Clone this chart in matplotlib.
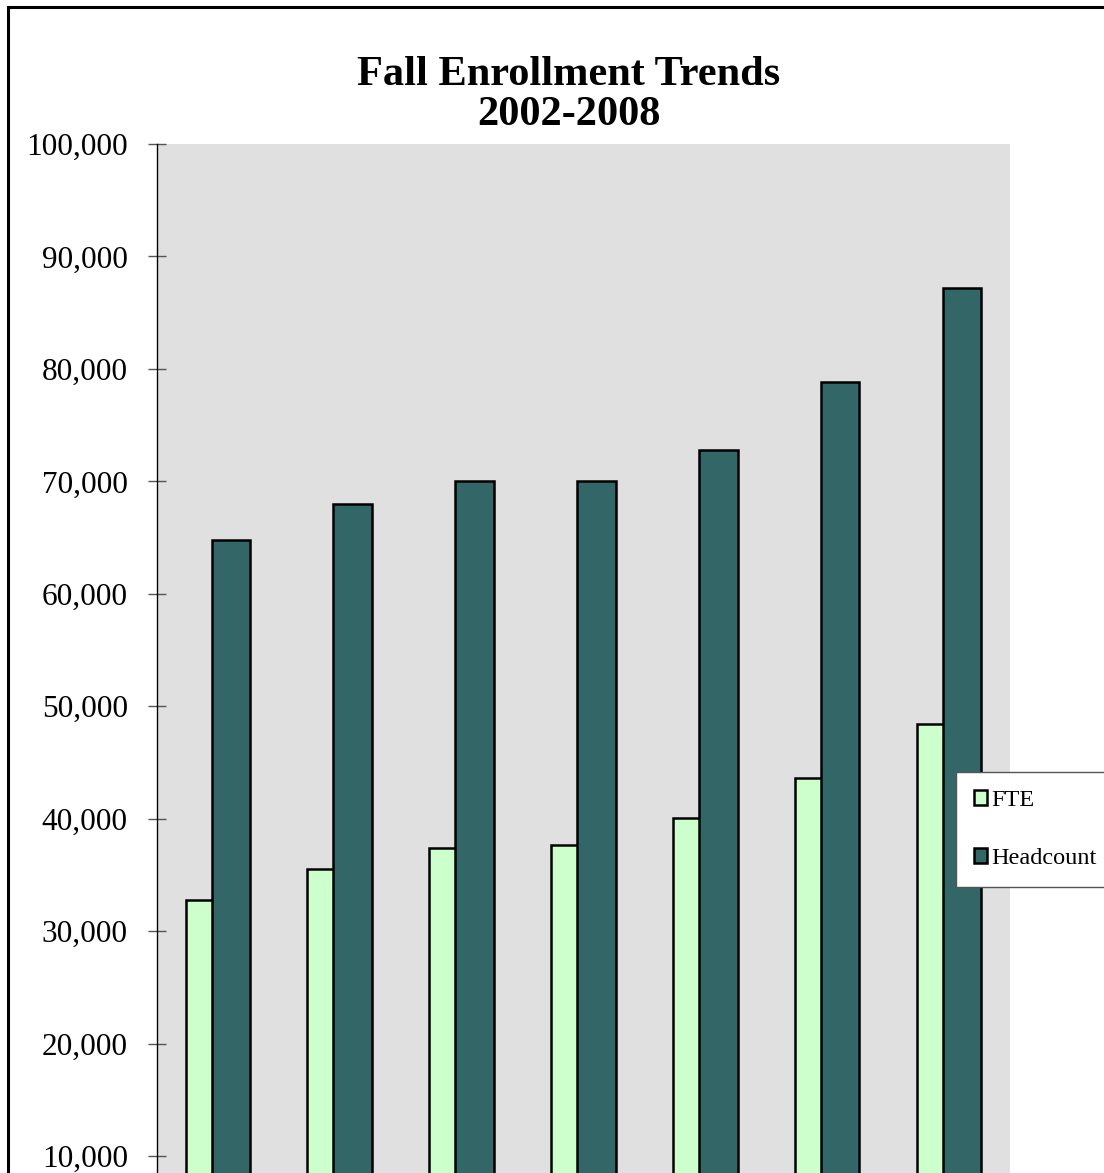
"""
 Fall enrollment trends chart
"""
import matplotlib
matplotlib.use('Agg')
import matplotlib.pyplot as plt
import numpy as np
from matplotlib.patches import Rectangle
from matplotlib.ticker import FuncFormatter

# data
years = ['2002', '2003', '2004', '2005', '2006', '2007', '2008']
fte = [32760, 35500, 37420, 37650, 40090, 43590, 48420]
headcount = [64780, 67980, 70030, 70000, 72790, 78860, 87220]
yticks = np.arange(10000, 100001, 10000)

plt.rcParams['font.family'] = ['Liberation Serif', 'DejaVu Serif']

fig = plt.figure(figsize=(11.04, 11.73), dpi=100)
# plot area runs off the bottom of the picture (0 line and year labels are cut off)
ax = fig.add_axes([0.1422, -0.0813, 0.7726, 0.9585])
ax.set_facecolor('#E0E0E0')

x = np.arange(len(years))
w = 0.317
off = 0.1067
b1 = ax.bar(x - off, fte, w, color='#CCFFCC', edgecolor='black', linewidth=1.8, label='FTE', zorder=2)
b2 = ax.bar(x + off, headcount, w, color='#336666', edgecolor='black', linewidth=1.8, label='Headcount', zorder=3)

ax.set_xlim(-0.5, len(years) - 0.5)
ax.set_ylim(0, 100000)
ax.set_yticks(yticks)
ax.yaxis.set_major_formatter(FuncFormatter(lambda v, p: f'{v:,.0f}'))
ax.tick_params(axis='y', direction='inout', length=13, width=1, color='#555555',
               labelsize=22.5, pad=14.5)
ax.set_xticks([])
for s in ['top', 'right', 'bottom']:
    ax.spines[s].set_visible(False)
ax.spines['left'].set_color('black')
ax.spines['left'].set_linewidth(1)

# title, two lines
fig.text(569 / 1104, 1 - 85 / 1173, 'Fall Enrollment Trends', ha='center', va='baseline',
         fontsize=30.5, fontweight='bold')
fig.text(569 / 1104, 1 - 125 / 1173, '2002-2008', ha='center', va='baseline',
         fontsize=30.5, fontweight='bold')

leg = ax.legend(handles=[b1, b2], loc='upper left',
                bbox_to_anchor=(956 / 1104, 1 - 772 / 1173), bbox_transform=fig.transFigure,
                fontsize=17.5, frameon=True, fancybox=False, shadow=False,
                borderpad=0.74, labelspacing=1.53, handlelength=0.55, handleheight=0.55,
                handletextpad=0.18, borderaxespad=0)
leg.get_frame().set_edgecolor('#555555')
leg.get_frame().set_linewidth(1)
leg.get_frame().set_facecolor('white')
leg.get_frame().set_alpha(1)

# outer chart border (right and bottom run off the picture)
fig.patches.append(Rectangle((8 / 1104, -0.1), 1.2, 1.1 - 6.5 / 1173, transform=fig.transFigure,
                             fill=False, edgecolor='black', linewidth=2.2, clip_on=False))

plt.savefig('out.png', dpi=100)
plt.close()
